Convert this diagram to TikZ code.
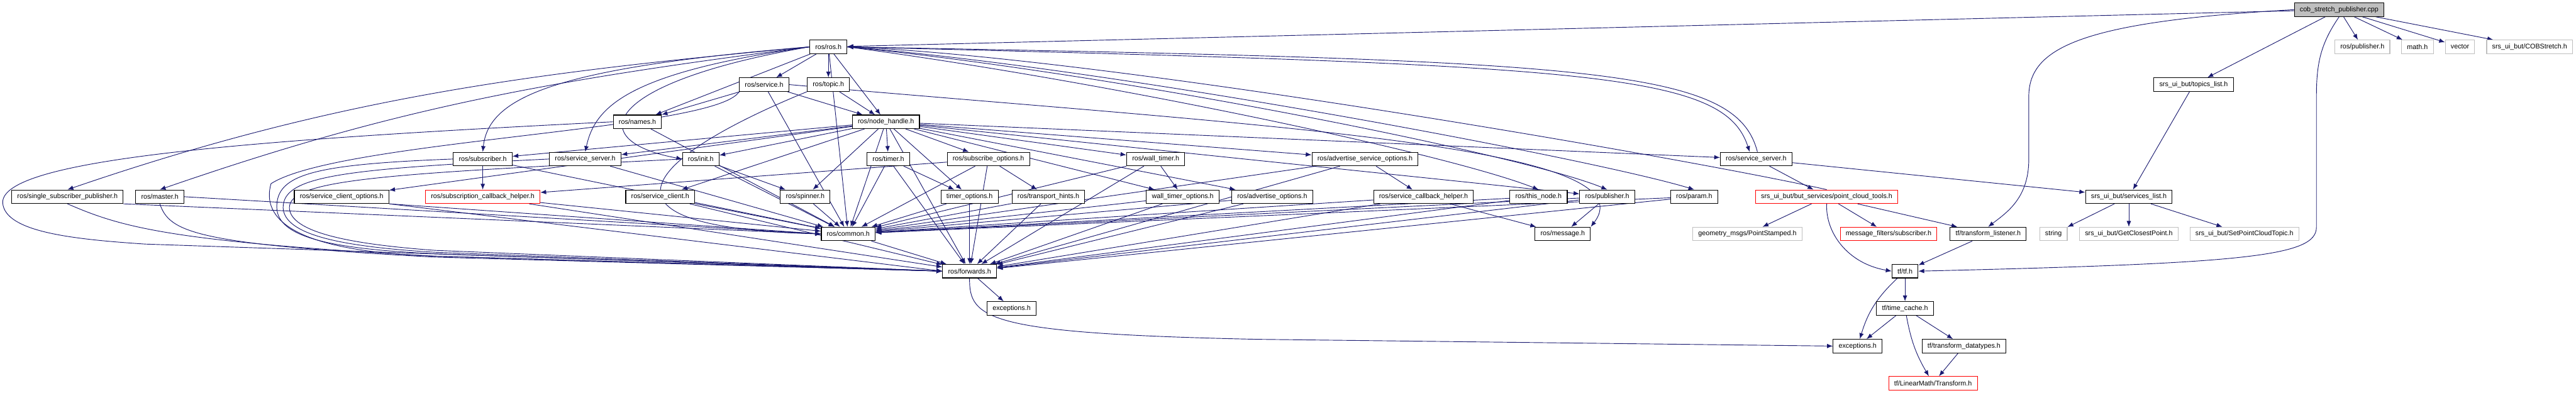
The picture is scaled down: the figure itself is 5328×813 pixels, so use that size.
\documentclass[tikz,border=0pt]{standalone}
\usepackage{fontspec}
\setmainfont{Liberation Sans}
\usepackage{xcolor}
\usetikzlibrary{arrows.meta, backgrounds}
\definecolor{tinta}{HTML}{191970}
\definecolor{abu}{HTML}{BFBFBF}

\begin{document}
\begin{tikzpicture}[
    x=0.75pt, y=-0.75pt,
    berkas/.style={draw=black, fill=white, line width=1.1pt, minimum height=21pt,
                   inner xsep=8.5pt, inner ysep=2pt, font=\fontsize{10.5}{12}\selectfont},
    merah/.style={berkas, draw=red},
    luar/.style={berkas, draw=abu},
    utama/.style={berkas, fill=abu},
    panah/.style={-{Latex[length=9pt,width=7pt]}, draw=tinta, line width=0.9pt}
  ]
    \begin{scope}[on background layer]
      \fill[white] (0,0) rectangle (5328,813);
    \end{scope}

    \node[utama] (cob) at (4838,20) {cob\_stretch\_publisher.cpp};
    \node[berkas] (rosh) at (1713,97) {ros/ros.h};
    \node[luar] (pubx) at (4886,97) {ros/publisher.h};
    \node[luar] (mathh) at (5000,97) {math.h};
    \node[luar] (vektor) at (5088,97) {vector};
    \node[luar] (cobs) at (5232,97) {srs\_ui\_but/COBStretch.h};
    \node[berkas] (servis) at (1580,175) {ros/service.h};
    \node[berkas] (topik) at (1713,175) {ros/topic.h};
    \node[berkas] (topiklist) at (4537,175) {srs\_ui\_but/topics\_list.h};
    \node[berkas] (nama) at (1318,252) {ros/names.h};
    \node[berkas] (nh) at (1832,252) {ros/node\_handle.h};
    \node[berkas] (sub) at (998,329) {ros/subscriber.h};
    \node[berkas] (ssl) at (1210,329) {ros/service\_server.h};
    \node[berkas] (init) at (1449,329) {ros/init.h};
    \node[berkas] (timer) at (1837,329) {ros/timer.h};
    \node[berkas] (subopt) at (2044,329) {ros/subscribe\_options.h};
    \node[berkas] (wtimer) at (2390,329) {ros/wall\_timer.h};
    \node[berkas] (advsvc) at (2823,329) {ros/advertise\_service\_options.h};
    \node[berkas] (ssr) at (3632,329) {ros/service\_server.h};
    \node[berkas] (ssp) at (139,407) {ros/single\_subscriber\_publisher.h};
    \node[berkas] (master) at (330,407) {ros/master.h};
    \node[berkas] (sco) at (706,407) {ros/service\_client\_options.h};
    \node[merah] (sch) at (998,407) {ros/subscription\_callback\_helper.h};
    \node[berkas] (sc) at (1365,407) {ros/service\_client.h};
    \node[berkas] (spin) at (1665,407) {ros/spinner.h};
    \node[berkas] (topt) at (2005,407) {timer\_options.h};
    \node[berkas] (th) at (2168,407) {ros/transport\_hints.h};
    \node[berkas] (wto) at (2446,407) {wall\_timer\_options.h};
    \node[berkas] (advopt) at (2631,407) {ros/advertise\_options.h};
    \node[berkas] (sbh) at (2944,407) {ros/service\_callback\_helper.h};
    \node[berkas] (thisnode) at (3182,407) {ros/this\_node.h};
    \node[berkas] (pub) at (3324,407) {ros/publisher.h};
    \node[berkas] (param) at (3504,407) {ros/param.h};
    \node[merah] (pct) at (3778,407) {srs\_ui\_but/but\_services/point\_cloud\_tools.h};
    \node[berkas] (svclist) at (4403,407) {srs\_ui\_but/services\_list.h};
    \node[berkas] (common) at (1754,484) {ros/common.h};
    \node[berkas] (msg) at (3232,484) {ros/message.h};
    \node[luar] (pst) at (3614,484) {geometry\_msgs/PointStamped.h};
    \node[merah] (mfs) at (3906,484) {message\_filters/subscriber.h};
    \node[berkas] (tfl) at (4112,484) {tf/transform\_listener.h};
    \node[luar] (str) at (4247,484) {string};
    \node[luar] (gcp) at (4403,484) {srs\_ui\_but/GetClosestPoint.h};
    \node[luar] (spct) at (4642,484) {srs\_ui\_but/SetPointCloudTopic.h};
    \node[berkas] (fwd) at (2005,561) {ros/forwards.h};
    \node[berkas] (tf) at (3940,561) {tf/tf.h};
    \node[berkas] (exc1) at (2092,638) {exceptions.h};
    \node[berkas] (tcache) at (3940,638) {tf/time\_cache.h};
    \node[berkas] (exc2) at (3842,716) {exceptions.h};
    \node[berkas] (tdt) at (4062,716) {tf/transform\_datatypes.h};
    \node[merah] (lmt) at (3998,793) {tf/LinearMath/Transform.h};

    \begin{scope}[on background layer]
    \draw[panah] (cob) -- (rosh);
    \draw[panah] (cob) -- (topiklist);
    \draw[panah] (cob.west) .. controls (4300,45) and (4196,100) .. (4196,200) -- (4196,330) .. controls (4196,410) and (4150,440) .. (tfl.north);
    \draw[panah] (cob.south) .. controls (4800,90) and (4791,130) .. (4791,200) -- (4791,470) .. controls (4791,530) and (4650,545) .. (tf.east);
    \draw[panah] (cob) -- (pubx);
    \draw[panah] (cob) -- (mathh);
    \draw[panah] (cob) -- (vektor);
    \draw[panah] (cob) -- (cobs);

    \draw[panah] (rosh) -- (servis);
    \draw[panah] (rosh) -- (topik);
    \draw[panah] (rosh) -- (nama);
    \draw[panah] (rosh) -- (nh);
    \draw[panah] (rosh) -- (common);
    \draw[panah] (rosh.west) .. controls (1150,140) and (1010,200) .. (sub.north);
    \draw[panah] (rosh.west) .. controls (1300,150) and (1230,220) .. (ssl.north);
    \draw[panah] (rosh.west) .. controls (1250,170) and (1200,290) .. (init.west);
    \draw[panah] (rosh.west) .. controls (1100,150) and (700,200) .. (ssp.north);
    \draw[panah] (rosh.west) .. controls (1100,170) and (800,230) .. (master.north);
    \draw[panah] (rosh.east) .. controls (2300,140) and (3300,330) .. (param.north);
    \draw[panah] (rosh.east) .. controls (2300,150) and (3150,320) .. (pub.north);
    \draw[panah] (rosh.east) .. controls (2300,170) and (3000,320) .. (thisnode.north);
    \draw[panah] (rosh.east) .. controls (3300,135) and (3565,150) .. ([xshift=-10pt]ssr.north);
    \draw[panah] ([xshift=2pt]ssr.north) .. controls (3590,140) and (3300,125) .. (rosh.east);
    \draw[panah] (pct.north) .. controls (3500,330) and (2300,120) .. (rosh.east);

    \draw[panah] (servis) -- (nama);
    \draw[panah] (servis) -- (nh);
    \draw[panah] (servis) -- (common);
    \draw[panah] (servis.south west) .. controls (1480,270) and (700,290) .. (560,380) .. controls (540,450) and (600,520) .. (900,530) -- (fwd.west);
    \draw[panah] (servis.east) .. controls (2600,260) and (3420,300) .. (msg.north east);
    \draw[panah] (topik) -- (nh);
    \draw[panah] (topik.south west) .. controls (1350,320) and (1180,470) .. (common.west);
    \draw[panah] (nama.west) .. controls (500,290) and (0,330) .. (5,420) .. controls (10,480) and (150,495) .. (300,505) -- (fwd.west);
    \draw[panah] (nama) -- (common);

    \draw[panah] (nh) -- (timer);
    \draw[panah] (nh) -- (subopt);
    \draw[panah] (nh) -- (topt);
    \draw[panah] (nh) -- (wtimer);
    \draw[panah] (nh) -- (wto);
    \draw[panah] (nh) -- (advopt);
    \draw[panah] (nh) -- (advsvc);
    \draw[panah] (nh) -- (ssr);
    \draw[panah] (nh) -- (pub);
    \draw[panah] (nh) -- (sub);
    \draw[panah] (nh) -- (ssl);
    \draw[panah] (nh) -- (init);
    \draw[panah] (nh) -- (sc);
    \draw[panah] (nh) -- (spin);
    \draw[panah] (nh) -- (sco);
    \draw[panah] (nh) -- (common);
    \draw[panah] (nh) -- (fwd);

    \draw[panah] (sub) -- (sch);
    \draw[panah] (sub) -- (common);
    \draw[panah] (sub.west) .. controls (650,340) and (570,360) .. (572,430) .. controls (574,490) and (680,515) .. (900,525) -- (fwd.west);
    \draw[panah] (ssl) -- (common);
    \draw[panah] (ssl.west) .. controls (700,350) and (585,365) .. (585,430) .. controls (588,485) and (700,510) .. (900,522) -- (fwd.west);
    \draw[panah] (init) -- (spin);
    \draw[panah] (init) -- (common);
    \draw[panah] (init.west) .. controls (800,360) and (598,370) .. (598,430) .. controls (600,480) and (720,505) .. (900,518) -- (fwd.west);
    \draw[panah] (timer) -- (topt);
    \draw[panah] (timer) -- (common);
    \draw[panah] (timer) -- (fwd);
    \draw[panah] (subopt) -- (th);
    \draw[panah] (subopt) -- (sch);
    \draw[panah] (subopt) -- (common);
    \draw[panah] (subopt) -- (fwd);
    \draw[panah] (wtimer) -- (wto);
    \draw[panah] (wtimer) -- (common);
    \draw[panah] (wtimer) -- (fwd);
    \draw[panah] (advsvc) -- (sbh);
    \draw[panah] (advsvc) -- (common);
    \draw[panah] (advsvc) -- (fwd);
    \draw[panah] (ssr) -- (pct);
    \draw[panah] (ssr) -- (svclist);

    \draw[panah] (ssp.south east) -- (common.west);
    \draw[panah] (ssp.south) .. controls (250,470) and (350,500) .. (900,530) -- (fwd.west);
    \draw[panah] (master.east) -- (common.west);
    \draw[panah] (master.south) .. controls (350,480) and (400,505) .. (900,532) -- (fwd.west);
    \draw[panah] (sco.south east) -- (common.west);
    \draw[panah] (sco.south east) -- (fwd.west);
    \draw[panah] (sch) -- (common);
    \draw[panah] (sch) -- (fwd);
    \draw[panah] (sc) -- (common);
    \draw[panah] (sc) -- (fwd);
    \draw[panah] (spin) -- (common);
    \draw[panah] (topt) -- (common);
    \draw[panah] (topt) -- (fwd);
    \draw[panah] (th) -- (common);
    \draw[panah] (th) -- (fwd);
    \draw[panah] (wto) -- (common);
    \draw[panah] (wto) -- (fwd);
    \draw[panah] (advopt) -- (common);
    \draw[panah] (advopt) -- (fwd);
    \draw[panah] (sbh) -- (msg);
    \draw[panah] (sbh) -- (common);
    \draw[panah] (sbh) -- (fwd);
    \draw[panah] (thisnode) -- (common);
    \draw[panah] (thisnode) -- (fwd);
    \draw[panah] (pub) -- (msg);
    \draw[panah] (pub) -- (common);
    \draw[panah] (pub) -- (fwd);
    \draw[panah] (param) -- (common);
    \draw[panah] (param) -- (fwd);

    \draw[panah] (common) -- (fwd);
    \draw[panah] (fwd) -- (exc1);
    \draw[panah] (fwd.south) .. controls (2004,660) and (2040,690) .. (2600,702) -- (exc2.west);

    \draw[panah] (pct) -- (pst);
    \draw[panah] (pct) -- (mfs);
    \draw[panah] (pct) -- (tfl);
    \draw[panah] (pct.south) .. controls (3775,480) and (3820,545) .. (tf.west);
    \draw[panah] (tfl) -- (tf);
    \draw[panah] (tf) -- (tcache);
    \draw[panah] (tf) to[bend right=15] (exc2);
    \draw[panah] (tcache) -- (exc2);
    \draw[panah] (tcache) -- (tdt);
    \draw[panah] (tcache) to[bend right=10] (lmt);
    \draw[panah] (tdt) -- (lmt);

    \draw[panah] (topiklist) -- (svclist);
    \draw[panah] (svclist) -- (str);
    \draw[panah] (svclist) -- (gcp);
    \draw[panah] (svclist) -- (spct);
    \end{scope}
  \end{tikzpicture}
\end{document}
